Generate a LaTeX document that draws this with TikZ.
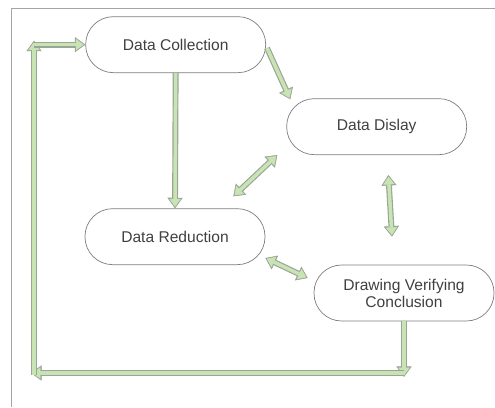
\documentclass[tikz,border=0pt]{standalone}
\usepackage{fontspec}
\setmainfont{Liberation Sans}
\usepackage{xcolor}
\usepackage{tikz}
\usetikzlibrary{arrows.meta,calc}
\definecolor{boxline}{RGB}{125,125,125}
\definecolor{arrowfill}{RGB}{200,228,180}
\definecolor{arrowline}{RGB}{155,165,150}
\definecolor{frameline}{RGB}{165,165,165}

\begin{document}
\begin{tikzpicture}[stage/.style={draw=boxline, line width=0.6pt, rectangle, 
        rounded corners=0.83cm, minimum width=5.4cm, minimum height=1.68cm, 
        align=center, text=black!75, font=\fontsize{13.3}{14.5}\selectfont},
        fat/.style={draw=arrowline, line width=5pt, 
        -{Triangle[length=9pt,width=13pt,line width=0.4pt]}, 
        postaction={draw=arrowfill, line width=3pt, shorten >=1.4pt, 
        -{Triangle[length=6.6pt,width=9.6pt,line width=0.4pt]}}},
        fatboth/.style={draw=arrowline, line width=5pt, 
        {Triangle[length=9pt,width=13pt,line width=0.4pt]}-{Triangle[length=9pt,
        width=13pt,line width=0.4pt]}, 
        postaction={draw=arrowfill, line width=3pt, shorten >=1.4pt, 
        shorten <=1.4pt, {Triangle[length=6.6pt,width=9.6pt,line width=0.4pt]}-{
        Triangle[length=6.6pt,width=9.6pt,line width=0.4pt]}}}]
        \useasboundingbox (0,0) rectangle (14.85,12.21);
        \draw[frameline, line width=0.7pt] (0.33,0) -- (0.33,11.97) -- 
        (14.85,11.97);
        \node[stage] (collect) at (5.27,10.87) {Data Collection};
        \node[stage] (display) at (11.3,8.41) {Data Dislay};
        \node[stage] (reduce) at (5.25,5.11) {Data Reduction};
        \node[stage] (conclude) at (12.12,3.42) {Drawing Verifying\\Conclusion};
        \coordinate (br) at (12.12,1.02);
        \coordinate (bl) at (1.02,1.02);
        \coordinate (tl) at (1.02,10.87);
        \draw[fat] ([shift={(0.03,-0.1)}]collect.east) -- 
        ([shift={(0.12,-0.03)}]display.north west);
        \draw[fat] (collect.south) -- (reduce.north);
        \draw[fatboth] ([shift={(-0.27,0)}]display.south west) -- 
        ([shift={(-0.96,0.36)}]reduce.north east);
        \draw[fatboth] ([shift={(0.35,-0.6)}]display.south) -- 
        ([shift={(-0.36,0.84)}]conclude.north);
        \draw[fatboth] ([shift={(0,0.21)}]reduce.south east) -- 
        ([shift={(-0.18,0.45)}]conclude.west);
        \draw[fat] (conclude.south) -- ([yshift=-0.12cm]br);
        \draw[fat] (br) -- ([xshift=-0.09cm]bl);
        \draw[fat] ([yshift=-0.06cm]bl) -- ([yshift=0.12cm]tl);
        \draw[fat] (tl) -- (collect.west);
    \end{tikzpicture}
\end{document}
